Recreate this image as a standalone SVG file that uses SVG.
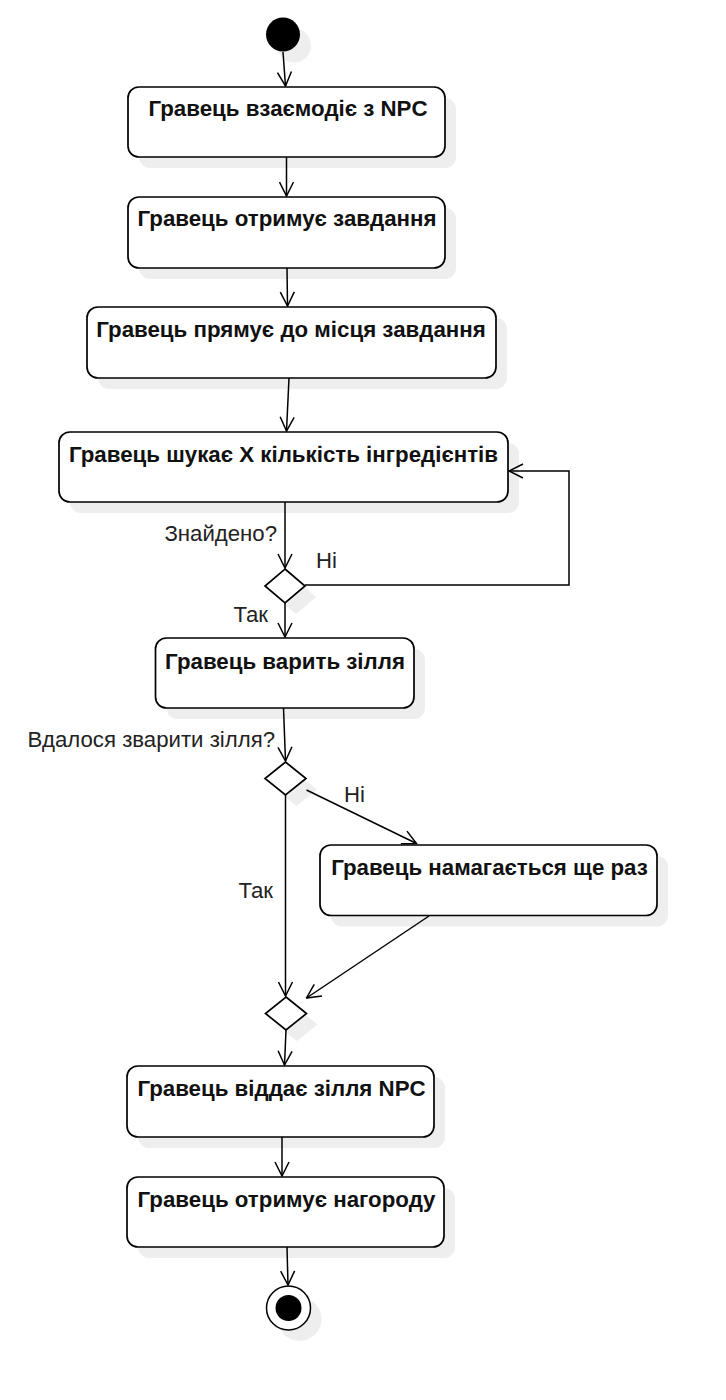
<svg xmlns="http://www.w3.org/2000/svg" width="726" height="1400" viewBox="0 0 726 1400">
<defs>
<style>
.box{fill:#ffffff;stroke:#000000;stroke-width:1.7}
.sh{fill:#eeeeee;stroke:none}
.t{font-family:"Liberation Sans",Arial,sans-serif;font-weight:bold;font-size:22.3px;fill:#111111;text-anchor:middle}
.lbl{font-family:"Liberation Sans",Arial,sans-serif;font-size:22.2px;fill:#222222}
.e{fill:none;stroke:#000000;stroke-width:1.5}
</style>
<marker id="arr" viewBox="0 0 16 16" refX="15" refY="8" markerWidth="16" markerHeight="16" markerUnits="userSpaceOnUse" orient="auto">
<path d="M1,1 L15,8 L1,15" fill="none" stroke="#000000" stroke-width="1.5"/>
</marker>
</defs>
<rect width="726" height="1400" fill="#ffffff"/>

<g id="start">
<circle class="sh" cx="294" cy="45.5" r="17"/>
<circle cx="283" cy="34.5" r="17" fill="#000000"/>
</g>

<g id="n1">
<rect class="sh" x="139" y="98" width="317" height="70" rx="11"/>
<rect class="box" x="128" y="87" width="317" height="70" rx="11"/>
<text class="t" x="288" y="116">Гравець взаємодіє з NPC</text>
</g>

<g id="n2">
<rect class="sh" x="139" y="208" width="317" height="71" rx="11"/>
<rect class="box" x="128" y="197" width="317" height="71" rx="11"/>
<text class="t" x="287" y="226">Гравець отримує завдання</text>
</g>

<g id="n3">
<rect class="sh" x="98" y="318" width="409" height="71" rx="11"/>
<rect class="box" x="87" y="307" width="409" height="71" rx="11"/>
<text class="t" x="291" y="337">Гравець прямує до місця завдання</text>
</g>

<g id="n4">
<rect class="sh" x="70" y="443" width="449" height="70" rx="11"/>
<rect class="box" x="59" y="432" width="449" height="70" rx="11"/>
<text class="t" x="283.5" y="462">Гравець шукає X кількість інгредієнтів</text>
</g>

<g id="d1">
<path class="sh" d="M296,580 L316,597 L296,614 L276,597 Z"/>
<path class="box" d="M285,569 L305,586 L285,603 L265,586 Z"/>
</g>

<g id="n5">
<rect class="sh" x="166.5" y="649" width="258.5" height="70" rx="11"/>
<rect class="box" x="155.5" y="638" width="258.5" height="70" rx="11"/>
<text class="t" x="285" y="669">Гравець варить зілля</text>
</g>

<g id="d2">
<path class="sh" d="M296.5,773 L317,789.5 L296.5,806 L276,789.5 Z"/>
<path class="box" d="M285.5,762 L306,778.5 L285.5,795 L265,778.5 Z"/>
</g>

<g id="n6">
<rect class="sh" x="331" y="856" width="337" height="70.5" rx="11"/>
<rect class="box" x="320" y="845" width="337" height="70.5" rx="11"/>
<text class="t" x="489.5" y="875">Гравець намагається ще раз</text>
</g>

<g id="d3">
<path class="sh" d="M297,1008 L317.5,1024.5 L297,1041 L276.5,1024.5 Z"/>
<path class="box" d="M286,997 L306.5,1013.5 L286,1030 L265.5,1013.5 Z"/>
</g>

<g id="n7">
<rect class="sh" x="138" y="1077" width="307" height="71" rx="11"/>
<rect class="box" x="127" y="1066" width="307" height="71" rx="11"/>
<text class="t" x="281.5" y="1096">Гравець віддає зілля NPC</text>
</g>

<g id="n8">
<rect class="sh" x="138" y="1188" width="317" height="70" rx="11"/>
<rect class="box" x="127" y="1177" width="317" height="70" rx="11"/>
<text class="t" x="286.5" y="1207">Гравець отримує нагороду</text>
</g>

<g id="end">
<circle class="sh" cx="299.5" cy="1319" r="22"/>
<circle cx="288.5" cy="1308" r="22" fill="#ffffff" stroke="#000000" stroke-width="1.5"/>
<circle cx="288.5" cy="1308" r="13" fill="#000000"/>
</g>

<g id="edges">
<path class="e" d="M283,52 L285.5,86" marker-end="url(#arr)"/>
<path class="e" d="M286.5,157 L286.5,196" marker-end="url(#arr)"/>
<path class="e" d="M287,268 L287.5,306" marker-end="url(#arr)"/>
<path class="e" d="M289,378 L286.5,431" marker-end="url(#arr)"/>
<path class="e" d="M285,502 L285,568" marker-end="url(#arr)"/>
<path class="e" d="M305,585 L569,585 L569,471 L509,471" marker-end="url(#arr)"/>
<path class="e" d="M285,603 L285,637" marker-end="url(#arr)"/>
<path class="e" d="M283.5,708 L285.5,761" marker-end="url(#arr)"/>
<path class="e" d="M306.5,790 L416.5,843.5" marker-end="url(#arr)"/>
<path class="e" d="M429,916 L306.5,998" marker-end="url(#arr)"/>
<path class="e" d="M285.5,795 L285.5,996" marker-end="url(#arr)"/>
<path class="e" d="M286,1030 L284.5,1065" marker-end="url(#arr)"/>
<path class="e" d="M282,1137 L282,1176" marker-end="url(#arr)"/>
<path class="e" d="M287,1247 L288,1285" marker-end="url(#arr)"/>
<text class="lbl" x="277" y="541" text-anchor="end">Знайдено?</text>
<text class="lbl" x="316" y="568">Ні</text>
<text class="lbl" x="268" y="622" text-anchor="end">Так</text>
<text class="lbl" x="275" y="747" text-anchor="end">Вдалося зварити зілля?</text>
<text class="lbl" x="344" y="802">Ні</text>
<text class="lbl" x="273" y="898" text-anchor="end">Так</text>
</g>
</svg>
